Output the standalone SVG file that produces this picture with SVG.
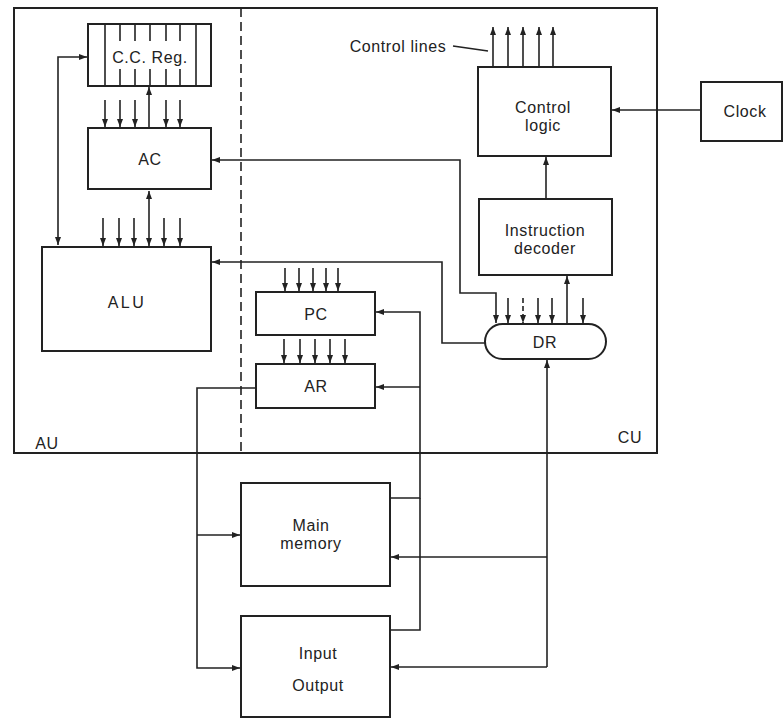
<svg xmlns="http://www.w3.org/2000/svg" width="784" height="719" viewBox="0 0 784 719">
<style>
.box{fill:none;stroke:#222;stroke-width:2}
.ln{fill:none;stroke:#222;stroke-width:1.6}
.t{font-family:"Liberation Sans",Arial,sans-serif;font-size:16px;fill:#222;text-anchor:middle;letter-spacing:0.6px}
</style>
<defs>
<marker id="ah" markerUnits="userSpaceOnUse" markerWidth="9" markerHeight="7" refX="8" refY="3" orient="auto-start-reverse">
<path d="M0,0 L8,3 L0,6 z" fill="#222"/>
</marker>
</defs>
<rect width="784" height="719" fill="#fff"/>
<g id="frame">
<rect class="box" x="14" y="8" width="643" height="445" stroke-width="1.8"/>
<line x1="241" y1="8" x2="241" y2="453" stroke="#222" stroke-width="1.6" stroke-dasharray="9,5"/>
<text class="t" x="47" y="449">AU</text>
<text class="t" x="630" y="443">CU</text>
</g>
<g id="ccreg">
<rect class="box" x="88" y="24" width="123" height="62"/>
<path class="ln" d="M105,24V86M196,24V86M120,24V41M135,24V41M150,24V41M166,24V41M180,24V41M120,69V86M135,69V86M150,69V86M166,69V86M180,69V86"/>
<text class="t" x="150" y="63">C.C. Reg.</text>
</g>
<g id="ac">
<rect class="box" x="88" y="128" width="123" height="61"/>
<text class="t" x="150" y="165">AC</text>
</g>
<g id="alu">
<rect class="box" x="42" y="247" width="169" height="104"/>
<text class="t" x="127" y="308" style="letter-spacing:2.5px">ALU</text>
</g>
<g id="pc">
<rect class="box" x="256" y="292" width="119" height="43"/>
<text class="t" x="316" y="320">PC</text>
</g>
<g id="ar">
<rect class="box" x="256" y="364" width="119" height="44"/>
<text class="t" x="316" y="392">AR</text>
</g>
<g id="dr">
<rect class="box" x="485" y="324" width="121" height="35" rx="17.5"/>
<text class="t" x="545" y="348">DR</text>
</g>
<g id="decoder">
<rect class="box" x="479" y="199" width="133" height="76"/>
<text class="t" x="545" y="236">Instruction</text>
<text class="t" x="545" y="254">decoder</text>
</g>
<g id="control">
<rect class="box" x="478" y="67" width="133" height="89"/>
<text class="t" x="543" y="113">Control</text>
<text class="t" x="543" y="131">logic</text>
<text class="t" x="398" y="52">Control lines</text>
</g>
<g id="clock">
<rect class="box" x="701" y="82" width="81" height="59"/>
<text class="t" x="745" y="117">Clock</text>
</g>
<g id="memory">
<rect class="box" x="241" y="483" width="149" height="103"/>
<text class="t" x="311" y="531">Main</text>
<text class="t" x="311" y="549">memory</text>
</g>
<g id="io">
<rect class="box" x="241" y="616" width="149" height="101"/>
<text class="t" x="318" y="659">Input</text>
<text class="t" x="318" y="691">Output</text>
</g>
<g id="connectors" class="ln">
<path d="M58,245V57H87" marker-start="url(#ah)" marker-end="url(#ah)"/>
<line x1="105" y1="100" x2="105" y2="127" marker-end="url(#ah)"/>
<line x1="120" y1="100" x2="120" y2="127" marker-end="url(#ah)"/>
<line x1="135" y1="100" x2="135" y2="127" marker-end="url(#ah)"/>
<line x1="166" y1="100" x2="166" y2="127" marker-end="url(#ah)"/>
<line x1="180" y1="100" x2="180" y2="127" marker-end="url(#ah)"/>
<line x1="149" y1="127" x2="149" y2="87" marker-end="url(#ah)"/>
<line x1="149" y1="191" x2="149" y2="246" marker-start="url(#ah)" marker-end="url(#ah)"/>
<line x1="103" y1="218" x2="103" y2="246" marker-end="url(#ah)"/>
<line x1="119" y1="218" x2="119" y2="246" marker-end="url(#ah)"/>
<line x1="134" y1="218" x2="134" y2="246" marker-end="url(#ah)"/>
<line x1="164" y1="218" x2="164" y2="246" marker-end="url(#ah)"/>
<line x1="180" y1="218" x2="180" y2="246" marker-end="url(#ah)"/>
<path d="M212,160H460V293H496V323" marker-start="url(#ah)" marker-end="url(#ah)"/>
<path d="M485,343H442V262H212" marker-end="url(#ah)"/>
<line x1="508" y1="298" x2="508" y2="323" marker-end="url(#ah)"/>
<line x1="523" y1="298" x2="523" y2="323" marker-end="url(#ah)" stroke-dasharray="5,3"/>
<line x1="538" y1="298" x2="538" y2="323" marker-end="url(#ah)"/>
<line x1="552" y1="298" x2="552" y2="323" marker-end="url(#ah)"/>
<line x1="583" y1="298" x2="583" y2="323" marker-end="url(#ah)"/>
<line x1="567" y1="324" x2="567" y2="276" marker-end="url(#ah)"/>
<line x1="546" y1="199" x2="546" y2="157" marker-end="url(#ah)"/>
<line x1="493" y1="67" x2="493" y2="27" marker-end="url(#ah)"/>
<line x1="508" y1="67" x2="508" y2="27" marker-end="url(#ah)"/>
<line x1="523" y1="67" x2="523" y2="27" marker-end="url(#ah)"/>
<line x1="539" y1="67" x2="539" y2="27" marker-end="url(#ah)"/>
<line x1="553" y1="67" x2="553" y2="27" marker-end="url(#ah)"/>
<line x1="453" y1="46" x2="488" y2="51"/>
<line x1="701" y1="110" x2="612" y2="110" marker-end="url(#ah)"/>
<line x1="285" y1="268" x2="285" y2="291" marker-end="url(#ah)"/>
<line x1="299" y1="268" x2="299" y2="291" marker-end="url(#ah)"/>
<line x1="313" y1="268" x2="313" y2="291" marker-end="url(#ah)"/>
<line x1="326" y1="268" x2="326" y2="291" marker-end="url(#ah)"/>
<line x1="338" y1="268" x2="338" y2="291" marker-end="url(#ah)"/>
<line x1="284" y1="339" x2="284" y2="363" marker-end="url(#ah)"/>
<line x1="300" y1="339" x2="300" y2="363" marker-end="url(#ah)"/>
<line x1="315" y1="339" x2="315" y2="363" marker-end="url(#ah)"/>
<line x1="330" y1="339" x2="330" y2="363" marker-end="url(#ah)"/>
<line x1="345" y1="339" x2="345" y2="363" marker-end="url(#ah)"/>
<path d="M390,498H420V312H376" marker-end="url(#ah)"/>
<path d="M420,387H376" marker-end="url(#ah)"/>
<path d="M390,630H420V498"/>
<path d="M256,388H197V668H240" marker-end="url(#ah)"/>
<path d="M197,535H240" marker-end="url(#ah)"/>
<path d="M547,667V360" marker-end="url(#ah)"/>
<path d="M547,557H391" marker-end="url(#ah)"/>
<path d="M547,667H391" marker-end="url(#ah)"/>
</g>
</svg>
